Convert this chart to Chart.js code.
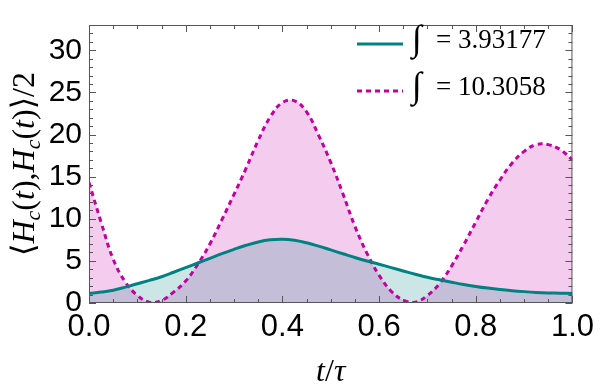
<!DOCTYPE html>
<html>
<head>
<meta charset="utf-8">
<script src="https://cdn.jsdelivr.net/npm/chart.js@4"></script>
<style>
  body { margin: 0; background: #fff; }
  canvas { display: block; }
</style>
</head>
<body>
<canvas id="chart" width="600" height="391"></canvas>
<script>
// t/tau sample points
const tValues = [0, 0.025, 0.05, 0.075, 0.1, 0.125, 0.15, 0.175, 0.2, 0.225, 0.25, 0.275, 0.3, 0.325, 0.35, 0.375, 0.4, 0.425, 0.45, 0.475, 0.5, 0.525, 0.55, 0.575, 0.6, 0.625, 0.65, 0.675, 0.7, 0.725, 0.75, 0.775, 0.8, 0.825, 0.85, 0.875, 0.9, 0.925, 0.95, 0.975, 1];
// teal solid curve
const tealValues = [1.13, 1.3, 1.52, 1.88, 2.28, 2.68, 3.12, 3.65, 4.2, 4.75, 5.3, 5.85, 6.37, 6.85, 7.25, 7.5, 7.57, 7.45, 7.15, 6.75, 6.3, 5.85, 5.4, 4.98, 4.6, 4.2, 3.8, 3.42, 3.05, 2.75, 2.47, 2.2, 1.97, 1.77, 1.6, 1.46, 1.35, 1.26, 1.2, 1.16, 1.13];
// magenta dashed curve
const magentaValues = [14.3, 9.6, 5.2, 2.5, 0.9, 0.1, 0.3, 1.3, 2.6, 4.6, 7.0, 9.9, 12.9, 16.0, 19.3, 22.1, 23.8, 24.0, 22.7, 19.9, 16.7, 13.0, 9.1, 5.9, 3.3, 1.4, 0.35, 0.1, 0.9, 2.3, 4.4, 6.9, 9.6, 12.3, 14.6, 16.6, 18.0, 18.8, 18.8, 18.2, 17.0];
const integralValues = ['3.93177', '10.3058'];
const xTickValues = [0, 0.2, 0.4, 0.6, 0.8, 1];
const yTickValues = [0, 5, 10, 15, 20, 25, 30];

const serif = "'Liberation Serif', 'DejaVu Serif', serif";
const sans = "'Liberation Sans', Arial, sans-serif";
const frameColor = '#555555';

function toPoints(ys) {
    return tValues.map((t, i) => ({ x: t, y: ys[i] }));
}

// draw a run of text pieces with different fonts, centred on x
function drawRich(ctx, parts, x, y) {
    let total = 0;
    parts.forEach(p => { ctx.font = p.font; total += ctx.measureText(p.text).width; });
    let cx = x - total / 2;
    parts.forEach(p => {
        ctx.font = p.font;
        ctx.fillText(p.text, cx, y + (p.dy || 0));
        cx += ctx.measureText(p.text).width;
    });
}

const framePlugin = {
    id: 'frame',
    afterDraw(chart) {
        const { ctx, chartArea: a, scales } = chart;
        ctx.save();
        ctx.strokeStyle = frameColor;
        ctx.lineWidth = 1;
        ctx.setLineDash([]);
        ctx.strokeRect(a.left + 0.5, a.top + 0.5, a.right - a.left - 1, a.bottom - a.top - 1);
        // inward tick marks on all four sides
        ctx.beginPath();
        for (let i = 0; i <= 20; i++) {
            const v = i * 0.05;
            const px = Math.round(scales.x.getPixelForValue(v)) + 0.5;
            const len = i % 4 === 0 ? 7 : 4;
            ctx.moveTo(px, a.bottom); ctx.lineTo(px, a.bottom - len);
            ctx.moveTo(px, a.top); ctx.lineTo(px, a.top + len);
        }
        for (let v = 0; v <= 33; v++) {
            const py = Math.round(scales.y.getPixelForValue(v)) + 0.5;
            const len = v % 5 === 0 ? 7 : 4;
            ctx.moveTo(a.left, py); ctx.lineTo(a.left + len, py);
            ctx.moveTo(a.right, py); ctx.lineTo(a.right - len, py);
        }
        ctx.stroke();

        // axis titles
        ctx.fillStyle = '#000';
        ctx.textBaseline = 'alphabetic';
        const it = 'italic 32px ' + serif;
        const up = '32px ' + serif;
        drawRich(ctx, [
            { text: 't', font: it },
            { text: '/', font: up },
            { text: 'τ', font: it }
        ], (a.left + a.right) / 2, 381);

        ctx.save();
        ctx.translate(34, (a.top + a.bottom) / 2);
        ctx.rotate(-Math.PI / 2);
        const sub = 'italic 22px ' + serif;
        drawRich(ctx, [
            { text: '⟨', font: up },
            { text: 'H', font: it },
            { text: 'c', font: sub, dy: 6 },
            { text: '(', font: up },
            { text: 't', font: it },
            { text: '),', font: up },
            { text: 'H', font: it },
            { text: 'c', font: sub, dy: 6 },
            { text: '(', font: up },
            { text: 't', font: it },
            { text: ')⟩/2', font: up }
        ], 0, 0);
        ctx.restore();

        // legend
        chart.data.datasets.forEach((ds, i) => {
            const ly = 44 + i * 47;
            ctx.strokeStyle = ds.borderColor;
            ctx.lineWidth = 3;
            ctx.setLineDash(ds.borderDash || []);
            ctx.beginPath();
            ctx.moveTo(357, ly);
            ctx.lineTo(403, ly);
            ctx.stroke();
            ctx.setLineDash([]);
            ctx.fillStyle = '#000';
            ctx.textAlign = 'left';
            ctx.font = '36px ' + serif;
            ctx.fillText('∫', 412, ly + 6);
            ctx.font = '27px ' + serif;
            ctx.fillText('= ' + integralValues[i], 436, ly + 4);
        });
        ctx.restore();
    }
};

new Chart(document.getElementById('chart'), {
    type: 'line',
    data: {
        datasets: [
            {
                label: 'teal',
                data: toPoints(tealValues),
                borderColor: '#008282',
                backgroundColor: 'rgba(0, 128, 128, 0.2)',
                borderWidth: 3,
                pointRadius: 0,
                tension: 0.4,
                fill: 'origin'
            },
            {
                label: 'magenta',
                data: toPoints(magentaValues),
                borderColor: '#c4009e',
                backgroundColor: 'rgba(200, 0, 170, 0.2)',
                borderWidth: 3,
                borderDash: [5, 4],
                pointRadius: 0,
                tension: 0.4,
                fill: 'origin'
            }
        ]
    },
    options: {
        responsive: false,
        animation: false,
        layout: { padding: { top: 2, right: 23, left: 0, bottom: 0 } },
        plugins: {
            legend: { display: false },
            tooltip: { enabled: false },
            filler: { drawTime: 'beforeDatasetsDraw' }
        },
        scales: {
            x: {
                type: 'linear',
                min: 0,
                max: 1,
                afterBuildTicks: s => { s.ticks = xTickValues.map(v => ({ value: v })); },
                afterFit: s => { s.height = 88; },
                ticks: {
                    callback: v => v.toFixed(1),
                    color: '#000',
                    font: { family: sans, size: 31 },
                    padding: 6,
                    maxRotation: 0
                },
                grid: { display: false, drawTicks: false },
                border: { display: false }
            },
            y: {
                type: 'linear',
                min: 0,
                max: 33,
                afterBuildTicks: s => { s.ticks = yTickValues.map(v => ({ value: v })); },
                afterFit: s => { s.width = 89; },
                ticks: {
                    color: '#000',
                    font: { family: sans, size: 30 },
                    padding: 7
                },
                grid: { display: false, drawTicks: false },
                border: { display: false }
            }
        }
    },
    plugins: [framePlugin]
});
</script>
</body>
</html>
